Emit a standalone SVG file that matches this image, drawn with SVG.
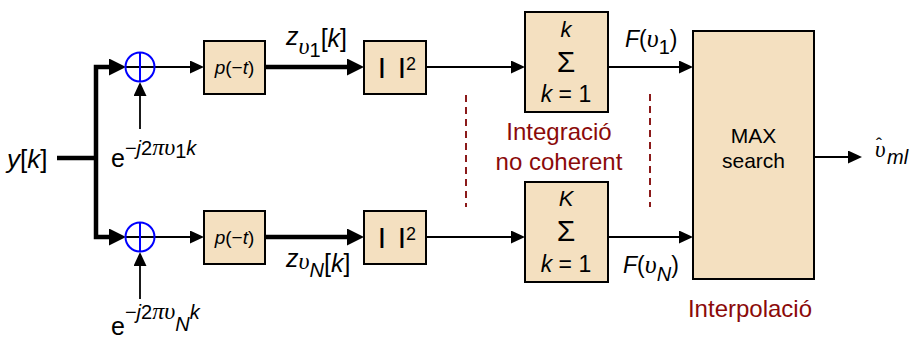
<svg xmlns="http://www.w3.org/2000/svg" width="910" height="342" viewBox="0 0 910 342">
<style>
.box{fill:#F4E0C0;stroke:#000;stroke-width:2}
.thick{fill:none;stroke:#000;stroke-width:4.5;stroke-linejoin:miter}
.thin{fill:none;stroke:#000;stroke-width:1.8}
.sum{fill:none;stroke:#0000FF;stroke-width:2}
.dash{fill:none;stroke:#8B1A1A;stroke-width:2;stroke-dasharray:7,5}
.t{font-family:"Liberation Sans",Arial,sans-serif;fill:#000}
.i{font-style:italic}
.n{font-style:normal}
.g{font-family:"Liberation Serif","Times New Roman",serif;font-style:italic}
.red{font-family:"Liberation Sans",Arial,sans-serif;fill:#8B0A0A}
</style>
<defs>
<marker id="aT" markerUnits="userSpaceOnUse" markerWidth="17" markerHeight="17" refX="0" refY="8.5" orient="auto"><path d="M0,0 L17,8.5 L0,17 z" fill="#000"/></marker>
<marker id="at" markerUnits="userSpaceOnUse" markerWidth="14" markerHeight="13" refX="0" refY="6.5" orient="auto"><path d="M0,0 L14,6.5 L0,13 z" fill="#000"/></marker>
</defs>

<g id="connectors">
<path class="thick" d="M57,158 H96"/>
<path class="thick" d="M96,158 V67 H109" marker-end="url(#aT)"/>
<path class="thick" d="M96,158 V237 H109" marker-end="url(#aT)"/>
<path class="thin" d="M125,67 H190" marker-end="url(#at)"/>
<path class="thin" d="M125,237 H190" marker-end="url(#at)"/>
<path class="thin" d="M140,129 V96" marker-end="url(#at)"/>
<path class="thin" d="M140,299 V266" marker-end="url(#at)"/>
<path class="thick" d="M265,67 H347" marker-end="url(#aT)"/>
<path class="thick" d="M265,237 H347" marker-end="url(#aT)"/>
<path class="thin" d="M426,67 H511" marker-end="url(#at)"/>
<path class="thin" d="M426,237 H511" marker-end="url(#at)"/>
<path class="thin" d="M608,67 H679" marker-end="url(#at)"/>
<path class="thin" d="M608,237 H679" marker-end="url(#at)"/>
<path class="thin" d="M814,157 H848" marker-end="url(#at)"/>
<path class="dash" d="M466,95 V207"/>
<path class="dash" d="M650,94 V207"/>
</g>

<g id="input">
<text class="t" x="7" y="168" font-size="26"><tspan class="i">y</tspan>[<tspan class="i">k</tspan>]</text>
</g>

<g id="mixer1">
<circle class="sum" cx="140" cy="67" r="14.5"/>
<line class="sum" x1="140" y1="52.5" x2="140" y2="81.5"/>
<text class="t" x="111" y="167" font-size="25">e<tspan font-size="20" dy="-12">−<tspan class="i">j</tspan>2<tspan class="g" font-size="24">πυ</tspan><tspan dy="3">1</tspan><tspan class="i" dy="-3">k</tspan></tspan></text>
</g>
<g id="mixerN">
<circle class="sum" cx="140" cy="237" r="14.5"/>
<line class="sum" x1="140" y1="222.5" x2="140" y2="251.5"/>
<text class="t" x="111" y="335" font-size="25">e<tspan font-size="20" dy="-16">−<tspan class="i">j</tspan>2<tspan class="g" font-size="24">πυ</tspan><tspan class="i" dy="12">N</tspan><tspan class="i" dy="-12">k</tspan></tspan></text>
</g>

<g id="filter1">
<rect class="box" x="204" y="41" width="61" height="53"/>
<text class="t" x="234.5" y="74" font-size="19" text-anchor="middle"><tspan class="i">p</tspan>(−<tspan class="i">t</tspan>)</text>
</g>
<g id="filterN">
<rect class="box" x="204" y="211" width="61" height="53"/>
<text class="t" x="234.5" y="244" font-size="19" text-anchor="middle"><tspan class="i">p</tspan>(−<tspan class="i">t</tspan>)</text>
</g>

<g id="label-z1">
<text class="t" x="286" y="45" font-size="25"><tspan class="i">z</tspan><tspan class="g" font-size="24" dy="9">υ</tspan><tspan font-size="20" dy="3">1</tspan><tspan dy="-10">[<tspan class="i">k</tspan>]</tspan></text>
</g>
<g id="label-zN">
<text class="t" x="286" y="267" font-size="25"><tspan class="i">z</tspan><tspan class="g" font-size="24" dy="2">υ</tspan><tspan class="i" font-size="20" dy="8">N</tspan><tspan dy="-5">[<tspan class="i">k</tspan>]</tspan></text>
</g>

<g id="abs1">
<rect class="box" x="364" y="41" width="62" height="53"/>
<text class="t" x="382" y="78" font-size="30" text-anchor="middle">I</text>
<text class="t" x="402" y="78" font-size="30" text-anchor="middle">I</text>
<text class="t" x="406" y="70" font-size="18">2</text>
</g>
<g id="absN">
<rect class="box" x="364" y="211" width="62" height="53"/>
<text class="t" x="382" y="248" font-size="30" text-anchor="middle">I</text>
<text class="t" x="402" y="248" font-size="30" text-anchor="middle">I</text>
<text class="t" x="406" y="240" font-size="18">2</text>
</g>

<g id="sigma1">
<rect class="box" x="525" y="12" width="83" height="100"/>
<text class="t i" x="566" y="37" font-size="22" text-anchor="middle">k</text>
<text class="t" x="566" y="72" font-size="30" text-anchor="middle">Σ</text>
<text class="t" x="566" y="102" font-size="23" text-anchor="middle"><tspan class="i">k</tspan> = 1</text>
</g>
<g id="sigmaN">
<rect class="box" x="525" y="182" width="83" height="100"/>
<text class="t i" x="566" y="206" font-size="22" text-anchor="middle">K</text>
<text class="t" x="566" y="241" font-size="30" text-anchor="middle">Σ</text>
<text class="t" x="566" y="272" font-size="23" text-anchor="middle"><tspan class="i">k</tspan> = 1</text>
</g>

<g id="integration-label">
<text class="red" x="559" y="140" font-size="24" text-anchor="middle">Integració</text>
<text class="red" x="559" y="170" font-size="24" text-anchor="middle">no coherent</text>
</g>

<g id="label-F1">
<text class="t" x="625" y="47" font-size="23"><tspan class="i">F</tspan>(<tspan class="g" font-size="26">υ</tspan><tspan font-size="20" dy="7">1</tspan><tspan dy="-7">)</tspan></text>
</g>
<g id="label-FN">
<text class="t" x="623" y="273" font-size="23"><tspan class="i">F</tspan>(<tspan class="g" font-size="26">υ</tspan><tspan class="i" font-size="20" dy="8">N</tspan><tspan dy="-8">)</tspan></text>
</g>

<g id="max">
<rect class="box" x="693" y="31" width="121" height="248"/>
<text class="t" x="753.5" y="143" font-size="21" text-anchor="middle">MAX</text>
<text class="t" x="753.5" y="168" font-size="21" text-anchor="middle">search</text>
<text class="red" x="750" y="317" font-size="24" text-anchor="middle">Interpolació</text>
</g>

<g id="output">
<text class="t" x="875" y="157" font-size="20"><tspan class="g" font-size="23">υ</tspan><tspan font-size="18" dx="-9.5" dy="-6">ˆ</tspan><tspan class="i" dx="5" dy="13">ml</tspan></text>
</g>
</svg>
